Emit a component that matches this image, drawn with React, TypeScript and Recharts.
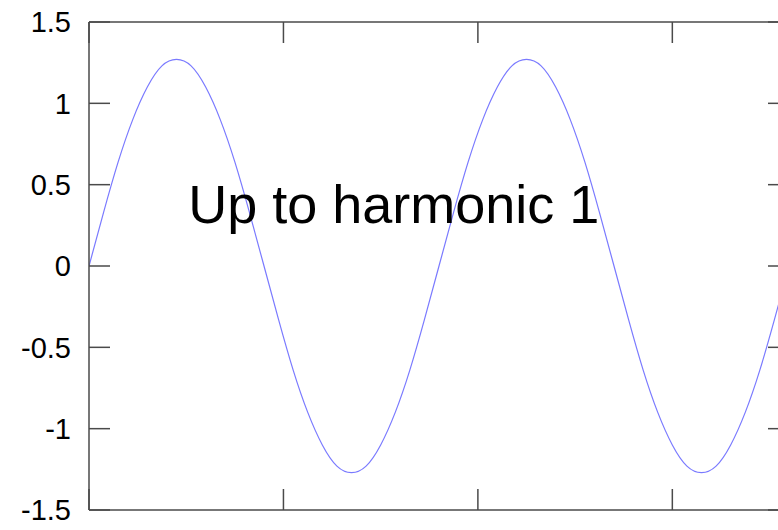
import { LineChart, Line, XAxis, YAxis, ReferenceDot } from 'recharts';

// phase in degrees, two full periods
const phase = [
  0, 15, 30, 45, 60, 75, 90, 105, 120, 135, 150, 165, 180, 195, 210, 225, 240, 255, 270, 285, 300, 315, 330, 345,
  360, 375, 390, 405, 420, 435, 450, 465, 480, 495, 510, 525, 540, 555, 570, 585, 600, 615, 630, 645, 660, 675, 690, 705,
  720,
];

// curve value (first harmonic only)
const harmonic1 = [
  0, 0.33, 0.64, 0.9, 1.1, 1.23, 1.27, 1.23, 1.1, 0.9, 0.64, 0.33, 0, -0.33, -0.64, -0.9, -1.1, -1.23, -1.27, -1.23, -1.1,
  -0.9, -0.64, -0.33, 0, 0.33, 0.64, 0.9, 1.1, 1.23, 1.27, 1.23, 1.1, 0.9, 0.64, 0.33, 0, -0.33, -0.64, -0.9, -1.1, -1.23,
  -1.27, -1.23, -1.1, -0.9, -0.64, -0.33, 0,
];

const xTicks = [0, 200, 400, 600];
const yTicks = [-1.5, -1, -0.5, 0, 0.5, 1, 1.5];

const labelText = 'Up to harmonic 1';

const frame = '#4a4a4a';
const frameWidth = 1.5;
const tickLen = 21;

// gnuplot style: tick marks point into the plot, mirrored on all four sides
function BottomTick({ x, y }: any) {
  return <line x1={x} y1={y} x2={x} y2={y - tickLen} stroke={frame} strokeWidth={frameWidth} />;
}

function TopTick({ x, y }: any) {
  return <line x1={x} y1={y} x2={x} y2={y + tickLen} stroke={frame} strokeWidth={frameWidth} />;
}

function LeftTick({ x, y, payload }: any) {
  return (
    <g>
      <line x1={x} y1={y} x2={x + tickLen} y2={y} stroke={frame} strokeWidth={frameWidth} />
      <text x={x - 18} y={y} dy="0.36em" textAnchor="end" fontSize={29} fill="#000">
        {String(payload.value)}
      </text>
    </g>
  );
}

function RightTick({ x, y }: any) {
  return <line x1={x} y1={y} x2={x - tickLen} y2={y} stroke={frame} strokeWidth={frameWidth} />;
}

export default function App() {
  const data = phase.map((x, i) => ({ x, y: harmonic1[i] }));

  return (
    <div
      style={{
        position: 'fixed',
        left: 0,
        top: 0,
        width: 778,
        height: 530,
        overflow: 'hidden',
        background: '#fff',
        fontFamily: '"Liberation Sans", Arial, sans-serif',
      }}
    >
      <LineChart width={800} height={530} data={data} margin={{ top: 21, right: 10, bottom: 19, left: 0 }}>
        <XAxis
          dataKey="x"
          type="number"
          domain={[0, 720]}
          ticks={xTicks}
          interval={0}
          height={1}
          tickSize={0}
          tickMargin={0}
          tickLine={false}
          tick={<BottomTick />}
          stroke={frame}
          strokeWidth={frameWidth}
          allowDataOverflow
        />
        <XAxis
          xAxisId="top"
          dataKey="x"
          orientation="top"
          type="number"
          domain={[0, 720]}
          ticks={xTicks}
          interval={0}
          height={1}
          tickSize={0}
          tickMargin={0}
          tickLine={false}
          tick={<TopTick />}
          stroke={frame}
          strokeWidth={frameWidth}
          allowDataOverflow
        />
        <YAxis
          type="number"
          domain={[-1.5, 1.5]}
          ticks={yTicks}
          interval={0}
          width={89}
          tickSize={0}
          tickMargin={0}
          tickLine={false}
          tick={<LeftTick />}
          stroke={frame}
          strokeWidth={frameWidth}
          allowDataOverflow
        />
        <YAxis
          yAxisId="right"
          orientation="right"
          type="number"
          domain={[-1.5, 1.5]}
          ticks={yTicks}
          interval={0}
          width={1}
          tickSize={0}
          tickMargin={0}
          tickLine={false}
          tick={<RightTick />}
          stroke={frame}
          strokeWidth={frameWidth}
          allowDataOverflow
        />
        <Line
          dataKey="y"
          type="natural"
          stroke="#7a7aff"
          strokeWidth={1.2}
          dot={false}
          activeDot={false}
          isAnimationActive={false}
        />
        <ReferenceDot
          x={102}
          y={0.38}
          r={0}
          fill="none"
          stroke="none"
          label={{ value: labelText, position: 'right', offset: 0, fontSize: 54, fill: '#000' }}
        />
      </LineChart>
    </div>
  );
}
